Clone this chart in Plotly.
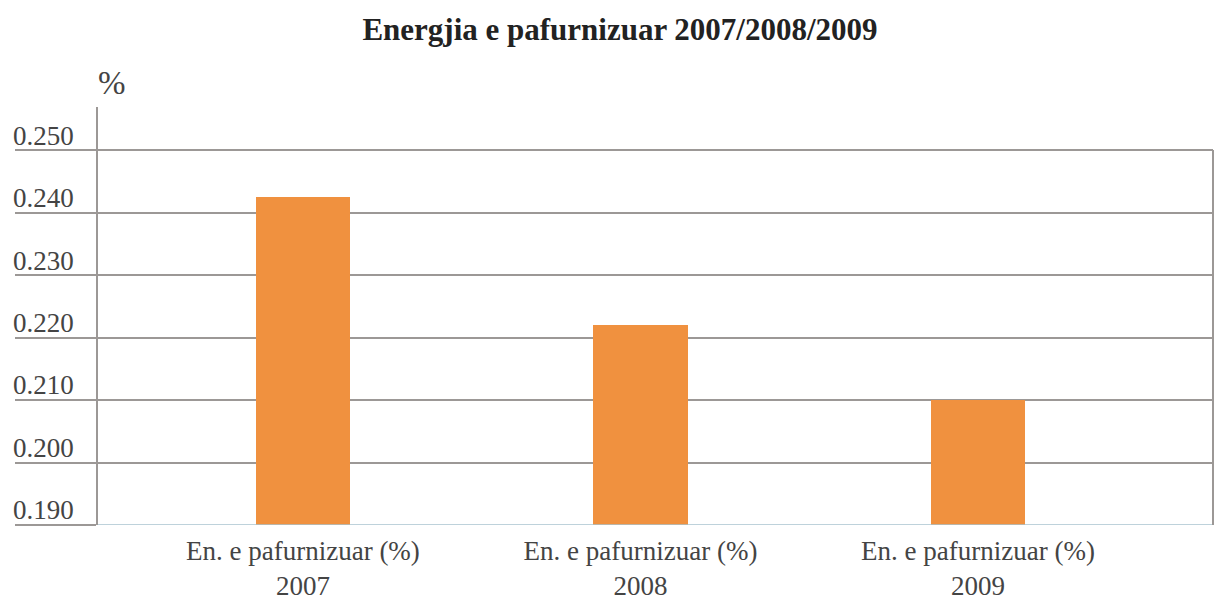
import plotly.graph_objects as go

categories = ["En. e pafurnizuar (%)<br>2007", "En. e pafurnizuar (%)<br>2008", "En. e pafurnizuar (%)<br>2009"]
values = [0.2425, 0.222, 0.210]
tick_vals = [0.190, 0.200, 0.210, 0.220, 0.230, 0.240, 0.250]
tick_text = ["0.190", "0.200", "0.210", "0.220", "0.230", "0.240", "0.250"]

SERIF = "Liberation Serif"
GRID = "#9c9896"

fig = go.Figure()
fig.add_trace(go.Bar(
    x=[0, 1, 2], y=values,
    marker=dict(color="#F0913F", line=dict(width=0)),
    width=0.28,
))

shapes = [
    dict(type="line", xref="paper", yref="y", x0=0, x1=1, y0=tick_vals[0], y1=tick_vals[0],
         line=dict(color="#a9c3cf", width=1.5), layer="above"),
    dict(type="line", xref="paper", yref="y", x0=1, x1=1, y0=tick_vals[0], y1=tick_vals[-1],
         line=dict(color=GRID, width=2), layer="above"),
]

fig.update_layout(
    width=1224, height=601,
    margin=dict(l=90, r=19, t=99, b=84, autoexpand=False),
    paper_bgcolor="white", plot_bgcolor="white",
    showlegend=False,
    bargap=0,
    title=dict(text="<b>Energjia e pafurnizuar 2007/2008/2009</b>", x=0.5, xanchor="center",
               y=0.965, yanchor="middle", font=dict(family=SERIF, size=31, color="#222222")),
    font=dict(family=SERIF, color="#444444"),
    xaxis=dict(range=[-0.607, 2.696], tickvals=[0, 1, 2], ticktext=categories,
               showgrid=False, zeroline=False, showline=False, ticks="", automargin=False,
               ticklabelstandoff=7,
               tickfont=dict(family=SERIF, size=27, color="#444444")),
    yaxis=dict(range=[0.190, 0.2569], tickvals=tick_vals, ticktext=tick_text,
               showgrid=True, gridcolor=GRID, gridwidth=1.5,
               zeroline=False, showline=True, linecolor=GRID, linewidth=1.5,
               ticks="outside", ticklen=81, tickwidth=1.5, tickcolor=GRID,
               ticklabelshift=-15, ticklabelstandoff=-64, automargin=False,
               tickfont=dict(family=SERIF, size=27, color="#444444")),
    shapes=shapes,
    annotations=[dict(text="%", xref="paper", yref="paper", x=0, y=1.0, xanchor="left", yanchor="bottom",
                      xshift=-2, yshift=4, showarrow=False, font=dict(family=SERIF, size=33, color="#444444"))],
)

fig.write_html("out.html")
